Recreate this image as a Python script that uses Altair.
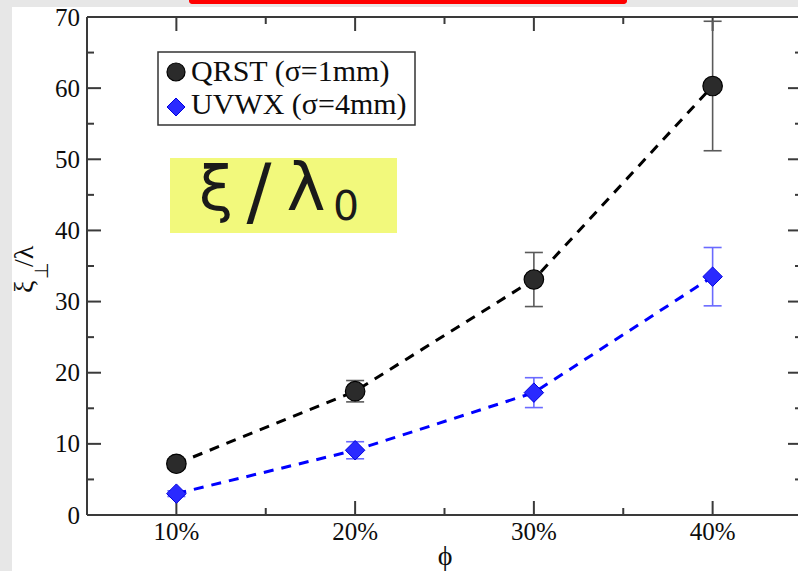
import altair as alt
import pandas as pd

# Measured correlation lengths versus volume fraction
phi = [10, 20, 30, 40]
qrst = [7.2, 17.4, 33.1, 60.3]
qrst_err = [0.7, 1.5, 3.8, 9.1]
uvwx = [3.0, 9.1, 17.2, 33.5]
uvwx_err = [0.4, 1.2, 2.1, 4.1]
series_names = ["QRST (σ=1mm)", "UVWX (σ=4mm)"]

x_major = [10, 20, 30, 40]
x_minor = [15, 25, 35]
y_major = [0, 10, 20, 30, 40, 50, 60, 70]
y_minor = [5, 15, 25, 35, 45, 55, 65]

W, H = 711, 498
AX = "#3a3a3a"
SERIF = "Liberation Serif"
INK = "#0d0d0d"

xscale = alt.Scale(domain=[5, 45], range=[0, 715])
yscale = alt.Scale(domain=[0, 70])


def frame(df):
    d = pd.DataFrame(df)
    d["lo"] = d["v"] - d["e"]
    d["hi"] = d["v"] + d["e"]
    return d


q = frame({"phi": phi, "v": qrst, "e": qrst_err})
u = frame({"phi": phi, "v": uvwx, "e": uvwx_err})
one = pd.DataFrame({"k": [0]})

X = lambda f: alt.X(f, scale=xscale, axis=None)
Y = lambda f: alt.Y(f, scale=yscale, axis=None)

# page decoration: textured margin strips and the red banner edge
strips = alt.layer(
    alt.Chart(one).mark_rect(color="#e7e7e7").encode(
        x=alt.value(-87), x2=alt.value(-75), y=alt.value(-17), y2=alt.value(554)),
    alt.Chart(one).mark_rect(color="#e7e7e7").encode(
        x=alt.value(-87), x2=alt.value(711), y=alt.value(-17), y2=alt.value(-10)),
    alt.Chart(one).mark_rect(color="#ff0000", cornerRadius=3).encode(
        x=alt.value(102), x2=alt.value(540), y=alt.value(-20), y2=alt.value(-13)),
)

# axis box
box = alt.layer(
    alt.Chart(one).mark_rule(color=AX, strokeWidth=2).encode(
        x=alt.value(0), y=alt.value(0), y2=alt.value(H)),
    alt.Chart(one).mark_rule(color=AX, strokeWidth=2).encode(
        x=alt.value(0), x2=alt.value(715), y=alt.value(0)),
    alt.Chart(one).mark_rule(color=AX, strokeWidth=2).encode(
        x=alt.value(0), x2=alt.value(715), y=alt.value(H)),
)


# inward ticks on all four sides
def xticks(vals, n):
    d = pd.DataFrame({"t": vals})
    return alt.layer(
        alt.Chart(d).mark_rule(color=AX, strokeWidth=2).encode(
            x=X("t:Q"), y=alt.value(H), y2=alt.value(H - n)),
        alt.Chart(d).mark_rule(color=AX, strokeWidth=2).encode(
            x=X("t:Q"), y=alt.value(0), y2=alt.value(n)),
    )


def yticks(vals, n):
    d = pd.DataFrame({"t": vals})
    return alt.layer(
        alt.Chart(d).mark_rule(color=AX, strokeWidth=2).encode(
            y=Y("t:Q"), x=alt.value(0), x2=alt.value(n)),
        alt.Chart(d).mark_rule(color=AX, strokeWidth=2).encode(
            y=Y("t:Q"), x=alt.value(715 - n), x2=alt.value(715)),
    )


ticks = alt.layer(xticks(x_major, 14), xticks(x_minor, 7),
                  yticks(y_major, 14), yticks(y_minor, 7))

# tick labels
TICK = 25
tick_labels = alt.layer(
    alt.Chart(pd.DataFrame({"t": x_major})).transform_calculate(
        lab="datum.t + '%'"
    ).mark_text(font=SERIF, fontSize=TICK, color=INK, baseline="alphabetic").encode(
        x=X("t:Q"), y=alt.value(H + 25), text="lab:N"),
    alt.Chart(pd.DataFrame({"t": y_major})).mark_text(
        font=SERIF, fontSize=TICK, color=INK, baseline="alphabetic", align="right", dy=8.5
    ).encode(y=Y("t:Q"), x=alt.value(-7), text="t:Q"),
)

# legend box
LEG = 30
legend = alt.layer(
    alt.Chart(one).mark_rect(fill="white", stroke="#333", strokeWidth=1.5).encode(
        x=alt.value(71), x2=alt.value(328), y=alt.value(35), y2=alt.value(108)),
    alt.Chart(one).mark_point(shape="circle", size=324, filled=True, fill="#2b2b2b",
                              stroke="black", strokeWidth=1.2, opacity=1).encode(
        x=alt.value(89), y=alt.value(55)),
    alt.Chart(one).mark_point(shape="diamond", size=324, filled=True, fill="#2a2aff",
                              stroke="#0000e0", strokeWidth=1, opacity=1).encode(
        x=alt.value(89), y=alt.value(90)),
    alt.Chart(one).mark_text(text=series_names[0], font=SERIF, fontSize=LEG, align="left",
                             baseline="alphabetic", color=INK).encode(
        x=alt.value(104), y=alt.value(64)),
    alt.Chart(one).mark_text(text=series_names[1], font=SERIF, fontSize=LEG, align="left",
                             baseline="alphabetic", color=INK).encode(
        x=alt.value(104), y=alt.value(97)),
)

# highlighted annotation
note_font = "DejaVu Sans"
note = alt.layer(
    alt.Chart(one).mark_rect(color="#f2f97c").encode(
        x=alt.value(83), x2=alt.value(310), y=alt.value(141), y2=alt.value(216)),
    alt.Chart(one).mark_text(text="ξ", font=note_font, fontSize=62, color="#1a1a1a",
                             baseline="alphabetic").encode(x=alt.value(129), y=alt.value(193)),
    alt.Chart(one).mark_text(text="/", font=note_font, fontSize=74, color="#1a1a1a",
                             baseline="alphabetic").encode(x=alt.value(172), y=alt.value(200)),
    alt.Chart(one).mark_text(text="λ", font=note_font, fontSize=66, color="#1a1a1a",
                             baseline="alphabetic").encode(x=alt.value(219), y=alt.value(193)),
    alt.Chart(one).mark_text(text="0", font=note_font, fontSize=41, color="#1a1a1a",
                             baseline="alphabetic").encode(x=alt.value(259), y=alt.value(203)),
)

# axis titles
titles = alt.layer(
    alt.Chart(one).mark_text(text="ξ", font=SERIF, fontSize=28, angle=270, align="left",
                             baseline="alphabetic", color=INK).encode(
        x=alt.value(-54), y=alt.value(276)),
    alt.Chart(one).mark_text(text="⊥", font=SERIF, fontSize=19, angle=270, align="left",
                             baseline="alphabetic", color=INK).encode(
        x=alt.value(-39), y=alt.value(262)),
    alt.Chart(one).mark_text(text="/λ", font=SERIF, fontSize=28, angle=270, align="left",
                             baseline="alphabetic", color=INK).encode(
        x=alt.value(-54), y=alt.value(250)),
    alt.Chart(one).mark_text(text="ϕ", font=SERIF, fontSize=28, baseline="alphabetic",
                             color=INK).encode(x=alt.value(358), y=alt.value(548)),
)


def errbars(d, color):
    return alt.layer(
        alt.Chart(d).mark_rule(color=color, strokeWidth=1.6).encode(
            x=X("phi:Q"), y=Y("lo:Q"), y2="hi:Q"),
        alt.Chart(d).mark_rule(color=color, strokeWidth=1.6, xOffset=-9, x2Offset=9).encode(
            x=X("phi:Q"), x2="phi:Q", y=Y("hi:Q")),
        alt.Chart(d).mark_rule(color=color, strokeWidth=1.6, xOffset=-9, x2Offset=9).encode(
            x=X("phi:Q"), x2="phi:Q", y=Y("lo:Q")),
    )


q_line = alt.Chart(q).mark_line(color="black", strokeWidth=3, strokeDash=[10, 8]).encode(
    x=X("phi:Q"), y=Y("v:Q"))
u_line = alt.Chart(u).mark_line(color="#0000ff", strokeWidth=3, strokeDash=[10, 8]).encode(
    x=X("phi:Q"), y=Y("v:Q"))

q_pts = alt.Chart(q).mark_point(shape="circle", size=380, filled=True, fill="#2b2b2b",
                                stroke="black", strokeWidth=1.2, opacity=1).encode(
    x=X("phi:Q"), y=Y("v:Q"))
u_pts = alt.Chart(u).mark_point(shape="diamond", size=380, filled=True, fill="#2a2aff",
                                stroke="#0000e0", strokeWidth=1, opacity=1).encode(
    x=X("phi:Q"), y=Y("v:Q"))

chart = alt.layer(
    strips, box, ticks, tick_labels, legend, note, titles,
    errbars(q, "#5a5a5a"), errbars(u, "#6a6aff"),
    q_line, u_line, q_pts, u_pts,
).properties(
    width=W, height=H,
    padding={"left": 87, "top": 17, "right": 0, "bottom": 56},
    autosize=alt.AutoSizeParams(type="none"),
    background="white",
).configure_view(stroke=None)

chart.save("out.html", embed_options={"renderer": "svg", "actions": False})
